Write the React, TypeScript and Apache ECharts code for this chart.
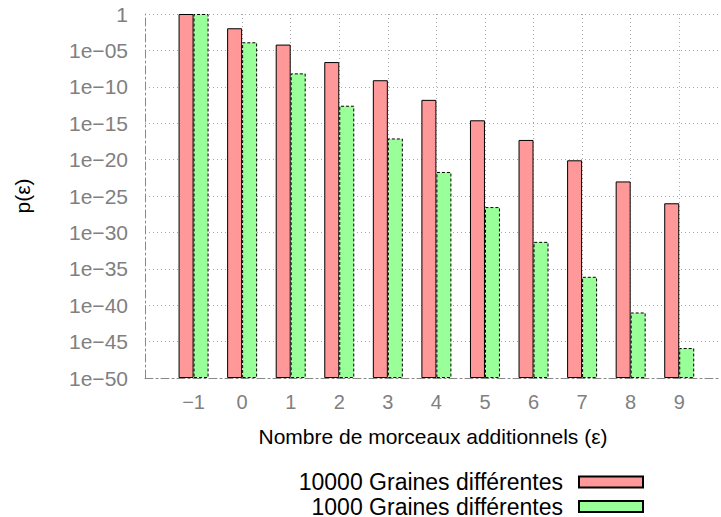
import React, { useEffect, useRef } from "react";
import * as echarts from "echarts";

const categories = [-1, 0, 1, 2, 3, 4, 5, 6, 7, 8, 9];
const seeds10000 = [1, 1.1e-2, 6.3e-5, 2.5e-7, 8e-10, 1.6e-12, 2.5e-15, 5e-18, 8e-21, 1e-23, 1e-26];
const seeds1000 = [1, 1.3e-4, 7e-9, 2.5e-13, 8e-18, 2e-22, 3e-27, 5e-32, 8e-37, 1e-41, 1.3e-46];
const seriesNames = ["10000 Graines différentes", "1000 Graines différentes"];
const xName = "Nombre de morceaux additionnels (ε)";
const yName = "p(ε)";
const xMin = -2;
const xMax = 9.86;
// y axis: decades (log10 of p), from 1e-50 to 1, a tick every 5 decades
const yMinDecade = -50;
const yMaxDecade = 0;
const yStepDecade = 5;

const FONT = "Liberation Sans";

function fmtY(e: number): string {
  if (e === 0) return "1";
  const a = Math.abs(e);
  return "1e" + (e < 0 ? "−" : "+") + (a < 10 ? "0" + a : String(a));
}

function fmtX(v: number): string {
  if (!categories.includes(v)) return "";
  return String(v).replace("-", "−");
}

export default function App() {
  const ref = useRef<HTMLDivElement>(null);
  useEffect(() => {
    if (!ref.current) return;
    document.body.style.margin = "0";
    const chart = echarts.init(ref.current, null, { renderer: "svg" });
    const gridColor = "#a8a8a8";
    chart.setOption({
      animation: false,
      backgroundColor: "#ffffff",
      textStyle: { fontFamily: FONT },
      grid: { left: 145, top: 14, bottom: 139, right: 0, containLabel: false, outerBoundsMode: "none" },
      legend: {
        orient: "vertical",
        align: "right",
        right: 77,
        top: 470,
        height: 60,
        padding: 0,
        itemWidth: 64,
        itemHeight: 11,
        itemGap: 0.5,
        icon: "rect",
        textStyle: { fontSize: 23, color: "#000", fontFamily: FONT, lineHeight: 24, padding: [0, 11, 0, 0] },
        data: seriesNames,
      },
      xAxis: {
        type: "value",
        min: xMin,
        max: xMax,
        interval: 1,
        name: xName,
        nameLocation: "middle",
        nameGap: 48,
        nameTextStyle: { fontSize: 21, color: "#000", fontFamily: FONT },
        axisLine: { show: true, onZero: false, lineStyle: { color: "#888", width: 1, type: [8, 3, 2, 3] } },
        axisTick: { show: false },
        axisLabel: {
          fontSize: 20,
          color: "#808080",
          fontFamily: FONT,
          margin: 14,
          formatter: fmtX,
        },
        splitLine: {
          show: true,
          showMinLine: false,
          showMaxLine: false,
          lineStyle: { color: gridColor, width: 1, type: [1, 3] },
        },
      },
      yAxis: {
        type: "value",
        min: yMinDecade,
        max: yMaxDecade,
        interval: yStepDecade,
        startValue: yMinDecade,
        name: yName,
        nameLocation: "middle",
        nameGap: 112,
        nameRotate: 90,
        nameTextStyle: { fontSize: 21, color: "#000", fontFamily: FONT },
        axisLine: { show: true, onZero: false, lineStyle: { color: "#888", width: 1, type: [8, 3, 2, 3] } },
        axisTick: { show: false },
        axisLabel: { fontSize: 21, color: "#808080", fontFamily: FONT, margin: 17, formatter: fmtY },
        splitLine: { show: true, showMinLine: false, lineStyle: { color: gridColor, width: 1, type: [1, 3] } },
      },
      series: [
        {
          name: seriesNames[0],
          type: "bar",
          barWidth: 15,
          barGap: "0%",
          data: categories.map((c, i) => [c, Math.log10(seeds10000[i])]),
          itemStyle: { color: "#ff9999", borderColor: "#000", borderWidth: 1, borderType: "solid" },
        },
        {
          name: seriesNames[1],
          type: "bar",
          barWidth: 15,
          barGap: "0%",
          data: categories.map((c, i) => [c, Math.log10(seeds1000[i])]),
          itemStyle: { color: "#99ff99", borderColor: "#000", borderWidth: 1, borderType: [3, 2] },
        },
      ],
    });
    return () => chart.dispose();
  }, []);
  return (
    <div
      ref={ref}
      style={{ position: "fixed", left: 0, top: 0, width: 721, height: 517, background: "#fff" }}
    />
  );
}
